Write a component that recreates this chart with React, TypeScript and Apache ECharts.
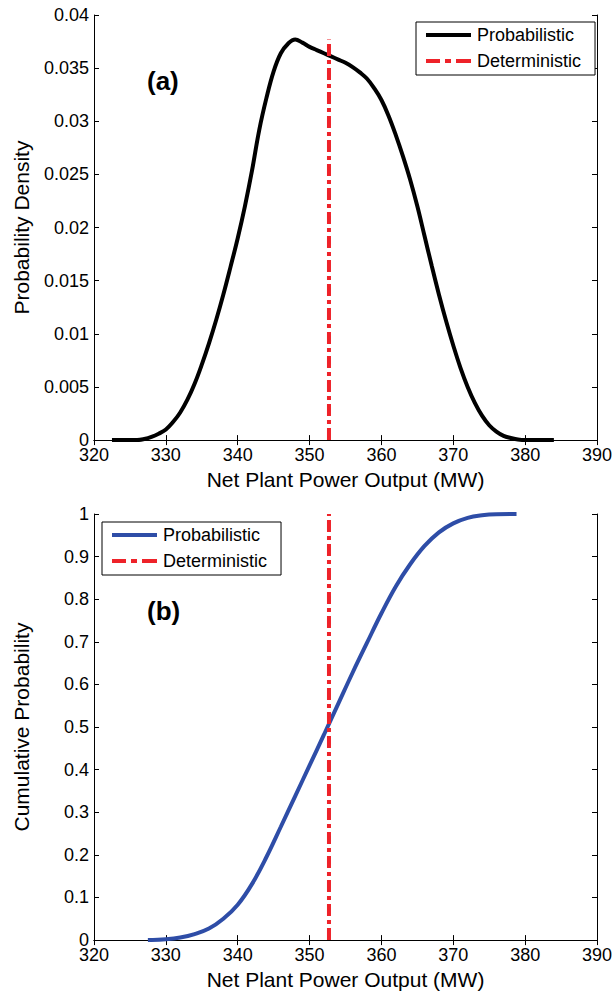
import React, { useEffect, useRef } from "react";
import * as echarts from "echarts";

// ---------- data ----------
const X_MIN = 320;
const X_MAX = 390;
const X_INTERVAL = 10;

const DETERMINISTIC_MW = 352.7;
const PDF_LINE_TOP = 0.0377;

const pdfX = [
  322.5, 326, 327, 328, 329, 330, 331, 332, 333, 334, 335, 336, 337, 338, 339, 340,
  341, 342, 343, 344, 345, 346, 347, 348, 349, 350, 351, 352, 353, 354, 355, 356,
  357, 358, 359, 360, 361, 362, 363, 364, 365, 366, 367, 368, 369, 370, 371, 372,
  373, 374, 375, 376, 377, 378, 379, 380, 384,
];
const pdfY = [
  0, 0, 0.0001, 0.0003, 0.0006, 0.001, 0.0017, 0.0026, 0.0038, 0.0053, 0.0071, 0.0091,
  0.0113, 0.0137, 0.0163, 0.019, 0.022, 0.0254, 0.0292, 0.0322, 0.0347, 0.0364, 0.0373,
  0.0377, 0.0374, 0.037, 0.0367, 0.0364, 0.0361, 0.0358, 0.0355, 0.0351, 0.0346, 0.034,
  0.0331, 0.032, 0.0305, 0.0287, 0.0267, 0.0245, 0.022, 0.0192, 0.0164, 0.0137, 0.0112,
  0.0089, 0.0068, 0.005, 0.0035, 0.0023, 0.0014, 0.0008, 0.0004, 0.0002, 0.00005, 0, 0,
];

const cdfX = [
  327.5, 330, 332, 334, 336, 338, 340, 342, 344, 346, 348, 350, 352, 354, 356, 358,
  360, 362, 364, 366, 368, 370, 372, 374, 376, 378.8,
];
const cdfY = [
  0, 0.002, 0.006, 0.014, 0.027, 0.05, 0.083, 0.132, 0.195, 0.266, 0.338, 0.41, 0.482,
  0.555, 0.628, 0.698, 0.767, 0.83, 0.882, 0.925, 0.957, 0.978, 0.991, 0.997, 0.9995, 1,
];

const SERIES_NAMES = ["Probabilistic", "Deterministic"];
const X_TITLE = "Net Plant Power Output (MW)";
const PDF_Y_TITLE = "Probability Density";
const CDF_Y_TITLE = "Cumulative Probability";

// ---------- styling ----------
const FONT = "'Liberation Sans', Arial, Helvetica, sans-serif";
const RED = "#EE2229";
const BLUE = "#2E4DA7";
const BLACK = "#000000";
const ICON_SOLID = "path://M0,0H45V4H0Z";
const ICON_DASHDOT = "path://M0,0H14V4H0Z M19,0H25V4H19Z M30,0H45V4H30Z";

type PanelCfg = {
  xs: number[];
  ys: number[];
  lineColor: string;
  yMin: number;
  yMax: number;
  yInterval: number;
  yTitle: string;
  detTop: number;
  gridTop: number;
  legendLeft: number;
  legendTop: number;
  panelLabel: string;
  labelY: number;
};

function makeOption(c: PanelCfg): any {
  const lineData = c.xs.map((x, i) => [x, c.ys[i]]);
  const detData = [
    [DETERMINISTIC_MW, c.yMin],
    [DETERMINISTIC_MW, c.detTop],
  ];
  const axisLine = { show: true, lineStyle: { color: BLACK, width: 1 } };
  const tick = { show: true, inside: true, length: 5, lineStyle: { color: BLACK, width: 1 } };
  const grid = { left: 94, top: c.gridTop, width: 503, height: 428, containLabel: false };
  return {
    animation: false,
    backgroundColor: "#ffffff",
    textStyle: { fontFamily: FONT },
    grid: [grid],
    legend: {
      data: [
        { name: SERIES_NAMES[0], icon: ICON_SOLID },
        { name: SERIES_NAMES[1], icon: ICON_DASHDOT },
      ],
      orient: "vertical",
      left: c.legendLeft,
      top: c.legendTop,
      padding: [4, 14, 5, 10],
      itemGap: 8,
      itemWidth: 45,
      itemHeight: 4,
      symbolKeepAspect: false,
      itemStyle: { borderWidth: 0 },
      borderColor: BLACK,
      borderWidth: 1,
      borderRadius: 0,
      backgroundColor: "#ffffff",
      selectedMode: false,
      textStyle: {
        fontFamily: FONT,
        fontSize: 18,
        lineHeight: 18,
        color: BLACK,
        padding: [0, 0, 0, 1],
      },
    },
    xAxis: [
      {
        type: "value",
        gridIndex: 0,
        position: "bottom",
        min: X_MIN,
        max: X_MAX,
        interval: X_INTERVAL,
        axisLine,
        axisTick: tick,
        splitLine: { show: false },
        axisLabel: { fontFamily: FONT, fontSize: 18, color: BLACK, margin: 6 },
        name: X_TITLE,
        nameLocation: "middle",
        nameGap: 24,
        nameTextStyle: { fontFamily: FONT, fontSize: 21, color: BLACK },
      },
      {
        type: "value",
        gridIndex: 0,
        position: "top",
        min: X_MIN,
        max: X_MAX,
        interval: X_INTERVAL,
        axisLine,
        axisTick: tick,
        splitLine: { show: false },
        axisLabel: { show: false },
      },
    ],
    yAxis: [
      {
        type: "value",
        gridIndex: 0,
        position: "left",
        min: c.yMin,
        max: c.yMax,
        interval: c.yInterval,
        axisLine,
        axisTick: tick,
        splitLine: { show: false },
        axisLabel: { fontFamily: FONT, fontSize: 18, color: BLACK, margin: 5 },
        name: c.yTitle,
        nameLocation: "middle",
        nameGap: 62,
        nameTextStyle: { fontFamily: FONT, fontSize: 21, color: BLACK },
      },
      {
        type: "value",
        gridIndex: 0,
        position: "right",
        min: c.yMin,
        max: c.yMax,
        interval: c.yInterval,
        axisLine,
        axisTick: tick,
        splitLine: { show: false },
        axisLabel: { show: false },
      },
    ],
    series: [
      {
        name: SERIES_NAMES[0],
        type: "line",
        xAxisIndex: 0,
        yAxisIndex: 0,
        data: lineData,
        symbol: "none",
        smooth: 0.4,
        lineStyle: { color: c.lineColor, width: 4 },
        itemStyle: { color: c.lineColor, borderWidth: 0 },
        z: 2,
      },
      {
        name: SERIES_NAMES[1],
        type: "line",
        xAxisIndex: 0,
        yAxisIndex: 0,
        data: detData,
        symbol: "none",
        lineStyle: { color: RED, width: 4, type: [12, 4, 4, 4] },
        itemStyle: { color: RED, borderWidth: 0 },
        z: 3,
      },
    ],
    graphic: [
      {
        type: "text",
        left: 147,
        top: c.labelY,
        style: {
          text: c.panelLabel,
          font: `bold 26px ${FONT}`,
          fill: BLACK,
        },
      },
    ],
  };
}

function Panel({ cfg, top, height }: { cfg: PanelCfg; top: number; height: number }) {
  const ref = useRef<HTMLDivElement>(null);
  useEffect(() => {
    if (!ref.current) return;
    const chart = echarts.init(ref.current, undefined, { renderer: "svg" });
    chart.setOption(makeOption(cfg));
    return () => chart.dispose();
  }, [cfg]);
  return (
    <div
      ref={ref}
      style={{ position: "absolute", left: 0, top, width: 616, height }}
    />
  );
}

const topCfg: PanelCfg = {
  xs: pdfX,
  ys: pdfY,
  lineColor: BLACK,
  yMin: 0,
  yMax: 0.04,
  yInterval: 0.005,
  yTitle: PDF_Y_TITLE,
  detTop: PDF_LINE_TOP,
  gridTop: 15,
  legendLeft: 416,
  legendTop: 22,
  panelLabel: "(a)",
  labelY: 68,
};

const bottomCfg: PanelCfg = {
  xs: cdfX,
  ys: cdfY,
  lineColor: BLUE,
  yMin: 0,
  yMax: 1,
  yInterval: 0.1,
  yTitle: CDF_Y_TITLE,
  detTop: 1,
  gridTop: 19,
  legendLeft: 102,
  legendTop: 27,
  panelLabel: "(b)",
  labelY: 103,
};

export default function App() {
  return (
    <div style={{ position: "absolute", left: 0, top: 0, width: 616, height: 995, background: "#fff" }}>
      <Panel cfg={topCfg} top={0} height={495} />
      <Panel cfg={bottomCfg} top={495} height={500} />
    </div>
  );
}
